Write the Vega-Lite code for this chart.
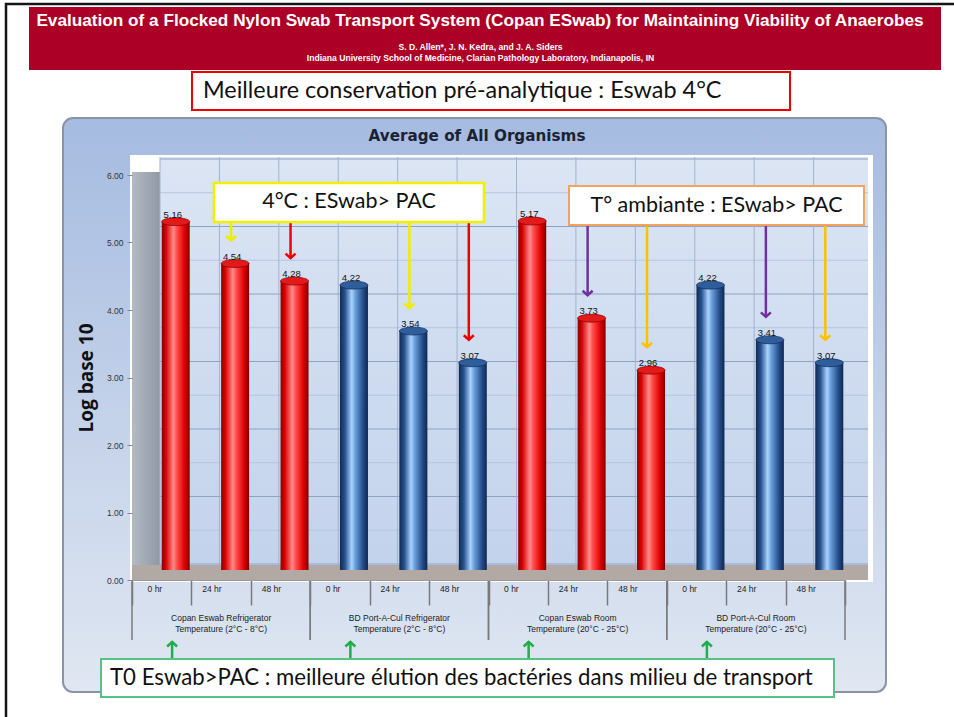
{
  "$schema": "https://vega.github.io/schema/vega-lite/v6.json",
  "autosize": {"type": "none"},
  "width": 713,
  "height": 405,
  "padding": {"left": 132, "top": 175, "right": 109, "bottom": 137},
  "background": "white",
  "config": {"view": {"stroke": null}, "font": "Liberation Sans"},
  "datasets": {
    "bars": [
      {"swab": "Copan Eswab", "condition": "Refrigerator", "time": "0 hr", "slot": "Copan Eswab Refrigerator · 0 hr", "value": 5.16},
      {"swab": "Copan Eswab", "condition": "Refrigerator", "time": "24 hr", "slot": "Copan Eswab Refrigerator · 24 hr", "value": 4.54},
      {"swab": "Copan Eswab", "condition": "Refrigerator", "time": "48 hr", "slot": "Copan Eswab Refrigerator · 48 hr", "value": 4.28},
      {"swab": "BD Port-A-Cul", "condition": "Refrigerator", "time": "0 hr", "slot": "BD Port-A-Cul Refrigerator · 0 hr", "value": 4.22},
      {"swab": "BD Port-A-Cul", "condition": "Refrigerator", "time": "24 hr", "slot": "BD Port-A-Cul Refrigerator · 24 hr", "value": 3.54},
      {"swab": "BD Port-A-Cul", "condition": "Refrigerator", "time": "48 hr", "slot": "BD Port-A-Cul Refrigerator · 48 hr", "value": 3.07},
      {"swab": "Copan Eswab", "condition": "Room", "time": "0 hr", "slot": "Copan Eswab Room · 0 hr", "value": 5.17},
      {"swab": "Copan Eswab", "condition": "Room", "time": "24 hr", "slot": "Copan Eswab Room · 24 hr", "value": 3.73},
      {"swab": "Copan Eswab", "condition": "Room", "time": "48 hr", "slot": "Copan Eswab Room · 48 hr", "value": 2.96},
      {"swab": "BD Port-A-Cul", "condition": "Room", "time": "0 hr", "slot": "BD Port-A-Cul Room · 0 hr", "value": 4.22},
      {"swab": "BD Port-A-Cul", "condition": "Room", "time": "24 hr", "slot": "BD Port-A-Cul Room · 24 hr", "value": 3.41},
      {"swab": "BD Port-A-Cul", "condition": "Room", "time": "48 hr", "slot": "BD Port-A-Cul Room · 48 hr", "value": 3.07}
    ],
    "groups": [
      {"label": "Copan  Eswab  Refrigerator\nTemperature (2°C - 8°C)", "first": "Copan Eswab Refrigerator · 0 hr", "mid": "Copan Eswab Refrigerator · 24 hr", "last": "Copan Eswab Refrigerator · 48 hr"},
      {"label": "BD Port-A-Cul  Refrigerator\nTemperature (2°C - 8°C)", "first": "BD Port-A-Cul Refrigerator · 0 hr", "mid": "BD Port-A-Cul Refrigerator · 24 hr", "last": "BD Port-A-Cul Refrigerator · 48 hr"},
      {"label": "Copan Eswab Room\nTemperature (20°C - 25°C)", "first": "Copan Eswab Room · 0 hr", "mid": "Copan Eswab Room · 24 hr", "last": "Copan Eswab Room · 48 hr"},
      {"label": "BD Port-A-Cul  Room\nTemperature (20°C - 25°C)", "first": "BD Port-A-Cul Room · 0 hr", "mid": "BD Port-A-Cul Room · 24 hr", "last": "BD Port-A-Cul Room · 48 hr"}
    ],
    "major": [{"v": 0}, {"v": 1}, {"v": 2}, {"v": 3}, {"v": 4}, {"v": 5}, {"v": 6}],
    "minor": [{"v": 0.5}, {"v": 1.5}, {"v": 2.5}, {"v": 3.5}, {"v": 4.5}, {"v": 5.5}]
  },
  "layer": [
    {
      "data": {"values": [{"item": "slide"}]},
      "mark": {"type": "rect", "fill": null, "stroke": "#151515", "strokeWidth": 2.5, "xOffset": -126, "x2Offset": 840},
      "encoding": {
        "x": {"datum": "Copan Eswab Refrigerator · 0 hr", "bandPosition": 0},
        "x2": {"datum": "Copan Eswab Refrigerator · 0 hr", "bandPosition": 0},
        "y": {"datum": 8.5333, "scale": {"domain": [0, 6], "nice": false, "zero": false}}, "y2": {"datum": -3}}
    },
    {
      "data": {"values": [{"title": "Evaluation of a Flocked Nylon Swab Transport System (Copan ESwab) for Maintaining Viability of Anaerobes", "authors": "S. D. Allen*, J. N. Kedra, and J. A. Siders", "affiliation": "Indiana University School of Medicine, Clarian Pathology Laboratory, Indianapolis, IN"}]},
      "layer": [
        {"mark": {"type": "rect", "fill": "#ad0026", "xOffset": -103, "x2Offset": 809},
          "encoding": {"x": {"datum": "Copan Eswab Refrigerator · 0 hr", "bandPosition": 0}, "x2": {"datum": "Copan Eswab Refrigerator · 0 hr", "bandPosition": 0}, "y": {"datum": 8.4889}, "y2": {"datum": 7.5556}}},
        {"mark": {"type": "text", "font": "Liberation Sans", "fontWeight": "bold", "fontSize": 17.2, "fill": "white", "dx": -8.5, "baseline": "middle"}, "encoding": {"text": {"field": "title"}, "y": {"datum": 8.2815}}},
        {"mark": {"type": "text", "font": "Liberation Sans", "fontWeight": "bold", "fontSize": 8.6, "fill": "white", "dx": -8, "baseline": "middle"}, "encoding": {"text": {"field": "authors"}, "y": {"datum": 7.8963}}},
        {"mark": {"type": "text", "font": "Liberation Sans", "fontWeight": "bold", "fontSize": 8.6, "fill": "white", "dx": -8, "baseline": "middle"}, "encoding": {"text": {"field": "affiliation"}, "y": {"datum": 7.7333}}}
      ]
    },
    {
      "data": {"values": [{"note": "Meilleure conservation pré-analytique : Eswab 4°C"}]},
      "layer": [
        {"mark": {"type": "rect", "fill": "white", "stroke": "#ee0000", "strokeWidth": 2, "xOffset": 60, "x2Offset": 658},
          "encoding": {"x": {"datum": "Copan Eswab Refrigerator · 0 hr", "bandPosition": 0}, "x2": {"datum": "Copan Eswab Refrigerator · 0 hr", "bandPosition": 0}, "y": {"datum": 7.5259}, "y2": {"datum": 6.963}}},
        {"mark": {"type": "text", "font": "Lato", "fontSize": 23.4, "fill": "#111111", "align": "left", "dx": -285.5, "baseline": "middle"}, "encoding": {"text": {"field": "note"}, "y": {"datum": 7.2444}}}
      ]
    },
    {
      "data": {"values": [{"panel": "Average of All Organisms"}]},
      "layer": [
        {"mark": {"type": "rect", "fill": {"gradient": "linear", "x1": 0, "y1": 0, "x2": 0, "y2": 1, "stops": [{"offset": 0, "color": "#a5bbe0"}, {"offset": 1, "color": "#e0e7f2"}]}, "stroke": "#8a94a4", "strokeWidth": 2, "cornerRadius": 10, "xOffset": -69, "x2Offset": 754},
          "encoding": {"x": {"datum": "Copan Eswab Refrigerator · 0 hr", "bandPosition": 0}, "x2": {"datum": "Copan Eswab Refrigerator · 0 hr", "bandPosition": 0}, "y": {"datum": 6.8444}, "y2": {"datum": -1.6593}}},
        {"mark": {"type": "text", "font": "DejaVu Sans", "fontWeight": "bold", "fontSize": 15.2, "fill": "#1b2333", "dx": -11.5, "baseline": "middle"}, "encoding": {"text": {"field": "panel"}, "y": {"datum": 6.5778}}},
        {"mark": {"type": "rect", "fill": "white", "xOffset": -2, "x2Offset": 741, "yOffset": -20, "y2Offset": 2},
          "encoding": {"x": {"datum": "Copan Eswab Refrigerator · 0 hr", "bandPosition": 0}, "x2": {"datum": "Copan Eswab Refrigerator · 0 hr", "bandPosition": 0}, "y": {"datum": 6}, "y2": {"datum": 0}}},
        {"mark": {"type": "rect", "fill": {"gradient": "linear", "x1": 0, "y1": 0, "x2": 0, "y2": 1, "stops": [{"offset": 0, "color": "#dbe5f4"}, {"offset": 1, "color": "#c3d3ec"}]}, "xOffset": 28, "x2Offset": 736, "yOffset": -18, "y2Offset": -15},
          "encoding": {"x": {"datum": "Copan Eswab Refrigerator · 0 hr", "bandPosition": 0}, "x2": {"datum": "Copan Eswab Refrigerator · 0 hr", "bandPosition": 0}, "y": {"datum": 6}, "y2": {"datum": 0}}},
        {"mark": {"type": "rect", "fill": {"gradient": "linear", "x1": 0, "y1": 0, "x2": 1, "y2": 0, "stops": [{"offset": 0, "color": "#b3bac3"}, {"offset": 1, "color": "#8f98a4"}]}, "xOffset": 0, "x2Offset": 28, "yOffset": -3, "y2Offset": -8},
          "encoding": {"x": {"datum": "Copan Eswab Refrigerator · 0 hr", "bandPosition": 0}, "x2": {"datum": "Copan Eswab Refrigerator · 0 hr", "bandPosition": 0}, "y": {"datum": 6}, "y2": {"datum": 0}}},
        {"mark": {"type": "rect", "fill": "#b2a9a5", "xOffset": 0, "x2Offset": 736, "yOffset": -15, "y2Offset": 0},
          "encoding": {"x": {"datum": "Copan Eswab Refrigerator · 0 hr", "bandPosition": 0}, "x2": {"datum": "Copan Eswab Refrigerator · 0 hr", "bandPosition": 0}, "y": {"datum": 0}, "y2": {"datum": 0}}}
      ]
    },
    {
      "data": {"name": "minor"},
      "mark": {"type": "rule", "color": "#b5c5df", "strokeWidth": 1, "xOffset": 28, "x2Offset": 736, "yOffset": -16},
      "encoding": {"x": {"datum": "Copan Eswab Refrigerator · 0 hr", "bandPosition": 0}, "x2": {"datum": "Copan Eswab Refrigerator · 0 hr", "bandPosition": 0}, "y": {"field": "v", "type": "quantitative"}}
    },
    {
      "data": {"name": "major"},
      "mark": {"type": "rule", "color": "#8ea2c3", "strokeWidth": 1, "xOffset": 28, "x2Offset": 736, "yOffset": -16},
      "encoding": {"x": {"datum": "Copan Eswab Refrigerator · 0 hr", "bandPosition": 0}, "x2": {"datum": "Copan Eswab Refrigerator · 0 hr", "bandPosition": 0}, "y": {"field": "v", "type": "quantitative"}}
    },
    {
      "data": {"name": "bars"},
      "mark": {"type": "rule", "color": "#a3b3ce", "strokeWidth": 1, "xOffset": 28, "yOffset": -18, "y2Offset": -15},
      "encoding": {"x": {"field": "slot", "type": "ordinal", "bandPosition": 0, "title": null}, "y": {"datum": 6}, "y2": {"datum": 0}}
    },
    {
      "data": {"name": "bars"},
      "transform": [{"filter": "datum.swab == 'Copan Eswab'"}],
      "layer": [
        {"mark": {"type": "bar", "width": 28, "xOffset": 14, "yOffset": -10, "y2Offset": -10, "fill": {"gradient": "linear", "x1": 0, "y1": 0, "x2": 1, "y2": 0, "stops": [{"offset": 0, "color": "#8a0000"}, {"offset": 0.15, "color": "#d80000"}, {"offset": 0.42, "color": "#ff8a8a"}, {"offset": 0.55, "color": "#ff4a4a"}, {"offset": 0.82, "color": "#dd0000"}, {"offset": 1, "color": "#7d0000"}]}},
          "encoding": {"x": {"field": "slot", "type": "ordinal", "title": null}, "y": {"field": "value", "type": "quantitative"}}},
        {"mark": {"type": "point", "shape": "M -1 0 A 1 0.28 0 1 1 1 0 A 1 0.28 0 1 1 -1 0 Z", "size": 784, "filled": true, "fill": "#e41a1a", "stroke": "#8f0000", "strokeWidth": 0.8, "opacity": 1, "xOffset": 14, "yOffset": -10},
          "encoding": {"x": {"field": "slot", "type": "ordinal", "title": null}, "y": {"field": "value", "type": "quantitative"}}}
      ]
    },
    {
      "data": {"name": "bars"},
      "transform": [{"filter": "datum.swab == 'BD Port-A-Cul'"}],
      "layer": [
        {"mark": {"type": "bar", "width": 28, "xOffset": 14, "yOffset": -10, "y2Offset": -10, "fill": {"gradient": "linear", "x1": 0, "y1": 0, "x2": 1, "y2": 0, "stops": [{"offset": 0, "color": "#0f2a52"}, {"offset": 0.18, "color": "#28528f"}, {"offset": 0.42, "color": "#a9d3ff"}, {"offset": 0.55, "color": "#6a9edb"}, {"offset": 0.82, "color": "#254e8a"}, {"offset": 1, "color": "#0e2750"}]}},
          "encoding": {"x": {"field": "slot", "type": "ordinal", "title": null}, "y": {"field": "value", "type": "quantitative"}}},
        {"mark": {"type": "point", "shape": "M -1 0 A 1 0.28 0 1 1 1 0 A 1 0.28 0 1 1 -1 0 Z", "size": 784, "filled": true, "fill": "#2f5e9c", "stroke": "#142f5a", "strokeWidth": 0.8, "opacity": 1, "xOffset": 14, "yOffset": -10},
          "encoding": {"x": {"field": "slot", "type": "ordinal", "title": null}, "y": {"field": "value", "type": "quantitative"}}}
      ]
    },
    {
      "data": {"name": "bars"},
      "mark": {"type": "text", "font": "Liberation Sans", "fontSize": 9.5, "fill": "#111111", "baseline": "bottom", "dx": 11, "dy": -12},
      "encoding": {
        "x": {"field": "slot", "type": "ordinal", "title": null,
          "scale": {"type": "band", "paddingInner": 0, "paddingOuter": 0, "domain": ["Copan Eswab Refrigerator · 0 hr", "Copan Eswab Refrigerator · 24 hr", "Copan Eswab Refrigerator · 48 hr", "BD Port-A-Cul Refrigerator · 0 hr", "BD Port-A-Cul Refrigerator · 24 hr", "BD Port-A-Cul Refrigerator · 48 hr", "Copan Eswab Room · 0 hr", "Copan Eswab Room · 24 hr", "Copan Eswab Room · 48 hr", "BD Port-A-Cul Room · 0 hr", "BD Port-A-Cul Room · 24 hr", "BD Port-A-Cul Room · 48 hr"]},
          "axis": {"title": null, "labelExpr": "split(datum.value, ' · ')[1]", "labelAngle": 0, "labelFont": "Liberation Sans", "labelFontSize": 8.5, "labelColor": "#222222", "tickBand": "extent", "tickSize": 25, "tickColor": "#7a7a7a", "tickWidth": 1.5, "labelPadding": -17, "domainColor": "#9a9a9a", "grid": false, "zindex": 1}},
        "y": {"field": "value", "type": "quantitative",
          "scale": {"domain": [0, 6], "nice": false, "zero": false},
          "axis": {"title": "Log base 10", "titleFont": "Open Sans", "titleFontWeight": "bold", "titleFontSize": 19, "titleColor": "#111111", "titlePadding": 10, "values": [0, 1, 2, 3, 4, 5, 6], "format": ".2f", "labelFont": "Liberation Sans", "labelFontSize": 8.5, "labelColor": "#333333", "tickSize": 5, "tickColor": "#888888", "labelPadding": 4, "domain": false, "grid": false, "zindex": 1}},
        "text": {"field": "value", "type": "quantitative", "format": ".2f"}
      }
    },
    {
      "data": {"name": "bars"},
      "transform": [{"filter": "datum.condition == 'Refrigerator' && datum.time == '24 hr'"}],
      "layer": [
        {"mark": {"type": "rule", "color": "#f0ec00", "strokeWidth": 2.5, "xOffset": 10, "yOffset": -34}, "encoding": {"x": {"field": "slot", "type": "ordinal", "title": null}, "y": {"field": "value", "type": "quantitative"}, "y2": {"datum": 5.3037}}},
        {"mark": {"type": "point", "shape": "M -1 -0.9 L 0 0 L 1 -0.9", "size": 100, "filled": false, "color": "#f0ec00", "strokeWidth": 2.5, "opacity": 1, "xOffset": 10, "yOffset": -33}, "encoding": {"x": {"field": "slot", "type": "ordinal", "title": null}, "y": {"field": "value", "type": "quantitative"}}}
      ]
    },
    {
      "data": {"name": "bars"},
      "transform": [{"filter": "datum.condition == 'Refrigerator' && datum.time == '48 hr'"}],
      "layer": [
        {"mark": {"type": "rule", "color": "#ee0000", "strokeWidth": 2.5, "xOffset": 10, "yOffset": -34}, "encoding": {"x": {"field": "slot", "type": "ordinal", "title": null}, "y": {"field": "value", "type": "quantitative"}, "y2": {"datum": 5.3037}}},
        {"mark": {"type": "point", "shape": "M -1 -0.9 L 0 0 L 1 -0.9", "size": 100, "filled": false, "color": "#ee0000", "strokeWidth": 2.5, "opacity": 1, "xOffset": 10, "yOffset": -33}, "encoding": {"x": {"field": "slot", "type": "ordinal", "title": null}, "y": {"field": "value", "type": "quantitative"}}}
      ]
    },
    {
      "data": {"name": "bars"},
      "transform": [{"filter": "datum.condition == 'Room' && datum.time == '24 hr'"}],
      "layer": [
        {"mark": {"type": "rule", "color": "#7030a0", "strokeWidth": 2.5, "xOffset": 10, "yOffset": -34}, "encoding": {"x": {"field": "slot", "type": "ordinal", "title": null}, "y": {"field": "value", "type": "quantitative"}, "y2": {"datum": 5.2593}}},
        {"mark": {"type": "point", "shape": "M -1 -0.9 L 0 0 L 1 -0.9", "size": 100, "filled": false, "color": "#7030a0", "strokeWidth": 2.5, "opacity": 1, "xOffset": 10, "yOffset": -33}, "encoding": {"x": {"field": "slot", "type": "ordinal", "title": null}, "y": {"field": "value", "type": "quantitative"}}}
      ]
    },
    {
      "data": {"name": "bars"},
      "transform": [{"filter": "datum.condition == 'Room' && datum.time == '48 hr'"}],
      "layer": [
        {"mark": {"type": "rule", "color": "#ffc000", "strokeWidth": 2.5, "xOffset": 10, "yOffset": -34}, "encoding": {"x": {"field": "slot", "type": "ordinal", "title": null}, "y": {"field": "value", "type": "quantitative"}, "y2": {"datum": 5.2593}}},
        {"mark": {"type": "point", "shape": "M -1 -0.9 L 0 0 L 1 -0.9", "size": 100, "filled": false, "color": "#ffc000", "strokeWidth": 2.5, "opacity": 1, "xOffset": 10, "yOffset": -33}, "encoding": {"x": {"field": "slot", "type": "ordinal", "title": null}, "y": {"field": "value", "type": "quantitative"}}}
      ]
    },
    {
      "data": {"values": [{"note": "4°C : ESwab> PAC"}]},
      "layer": [
        {"mark": {"type": "rect", "fill": "white", "stroke": "#f2f000", "strokeWidth": 2.5, "xOffset": 82, "x2Offset": 352},
          "encoding": {"x": {"datum": "Copan Eswab Refrigerator · 0 hr", "bandPosition": 0}, "x2": {"datum": "Copan Eswab Refrigerator · 0 hr", "bandPosition": 0}, "y": {"datum": 5.8815}, "y2": {"datum": 5.3037}}},
        {"mark": {"type": "text", "font": "Lato", "fontSize": 21.5, "fill": "#111111", "dx": -139.5, "baseline": "middle"}, "encoding": {"text": {"field": "note"}, "y": {"datum": 5.6}}}
      ]
    },
    {
      "data": {"values": [{"note": "T° ambiante : ESwab> PAC"}]},
      "layer": [
        {"mark": {"type": "rect", "fill": "white", "stroke": "#f5a25e", "strokeWidth": 2, "xOffset": 437, "x2Offset": 732},
          "encoding": {"x": {"datum": "Copan Eswab Refrigerator · 0 hr", "bandPosition": 0}, "x2": {"datum": "Copan Eswab Refrigerator · 0 hr", "bandPosition": 0}, "y": {"datum": 5.837}, "y2": {"datum": 5.2593}}},
        {"mark": {"type": "text", "font": "Lato", "fontSize": 21.5, "fill": "#111111", "dx": 228, "baseline": "middle"}, "encoding": {"text": {"field": "note"}, "y": {"datum": 5.5481}}}
      ]
    },
    {
      "data": {"name": "groups"},
      "layer": [
        {"mark": {"type": "rule", "color": "#7a7a7a", "strokeWidth": 1.5}, "encoding": {"x": {"field": "first", "type": "ordinal", "bandPosition": 0, "title": null}, "y": {"datum": 0}, "y2": {"datum": -0.8889}}},
        {"mark": {"type": "rule", "color": "#7a7a7a", "strokeWidth": 1.5}, "encoding": {"x": {"field": "last", "type": "ordinal", "bandPosition": 1, "title": null}, "y": {"datum": 0}, "y2": {"datum": -0.8889}}},
        {"mark": {"type": "text", "font": "Liberation Sans", "fontSize": 8.5, "fill": "#222222", "lineBreak": "\n", "lineHeight": 11, "baseline": "top"}, "encoding": {"x": {"field": "mid", "type": "ordinal", "title": null}, "y": {"datum": -0.5037}, "text": {"field": "label"}}},
        {"mark": {"type": "rule", "color": "#1fae4b", "strokeWidth": 2.5, "xOffset": -49, "yOffset": -1}, "encoding": {"x": {"field": "mid", "type": "ordinal", "title": null}, "y": {"datum": -0.9185}, "y2": {"datum": -1.1704}}},
        {"mark": {"type": "point", "shape": "M -1 0.9 L 0 0 L 1 0.9", "size": 100, "filled": false, "color": "#1fae4b", "strokeWidth": 2.5, "opacity": 1, "xOffset": -49}, "encoding": {"x": {"field": "mid", "type": "ordinal", "title": null}, "y": {"datum": -0.9185}}}
      ]
    },
    {
      "data": {"values": [{"note": "T0 Eswab>PAC : meilleure élution des bactéries dans milieu de transport"}]},
      "layer": [
        {"mark": {"type": "rect", "fill": "white", "stroke": "#55c283", "strokeWidth": 2, "xOffset": -31, "x2Offset": 702},
          "encoding": {"x": {"datum": "Copan Eswab Refrigerator · 0 hr", "bandPosition": 0}, "x2": {"datum": "Copan Eswab Refrigerator · 0 hr", "bandPosition": 0}, "y": {"datum": -1.1704}, "y2": {"datum": -1.7333}}},
        {"mark": {"type": "text", "font": "Lato", "fontSize": 22.2, "fill": "#111111", "align": "left", "dx": -378.5, "baseline": "middle"}, "encoding": {"text": {"field": "note"}, "y": {"datum": -1.4519}}}
      ]
    }
  ]
}
